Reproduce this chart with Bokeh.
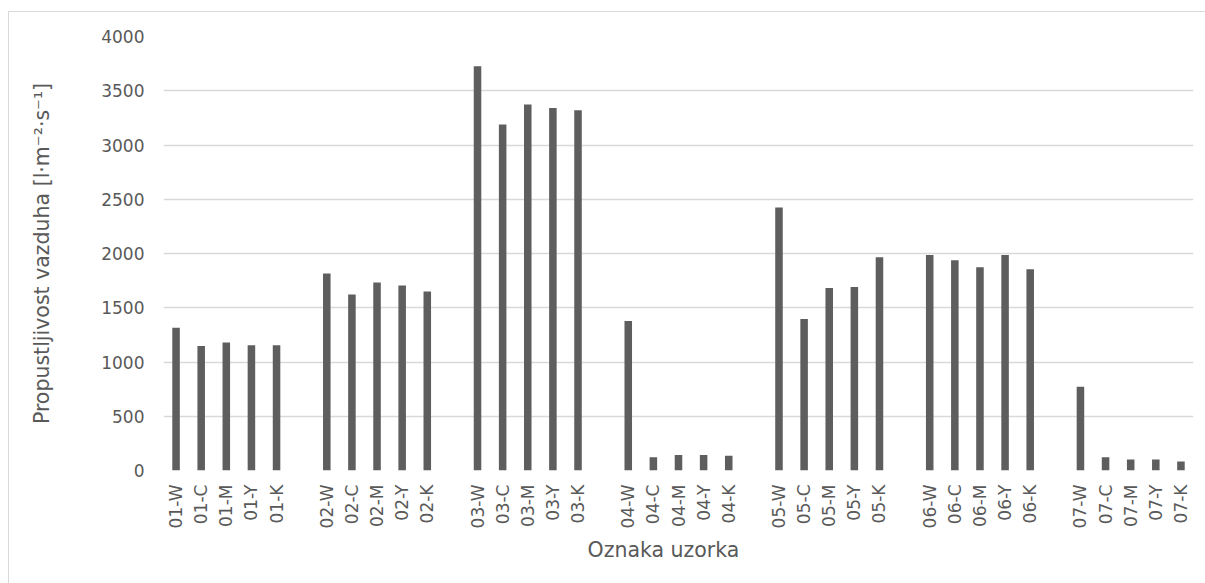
from bokeh.plotting import figure
from bokeh.models import FixedTicker, Range1d, ColumnDataSource, Title, InlineStyleSheet
from bokeh.embed import file_html
from bokeh.resources import INLINE
import math

groups = ["01", "02", "03", "04", "05", "06", "07"]
variants = ["W", "C", "M", "Y", "K"]
values_01 = [1315, 1148, 1180, 1155, 1155]
values_02 = [1815, 1622, 1733, 1705, 1650]
values_03 = [3726, 3189, 3373, 3342, 3321]
values_04 = [1379, 122, 144, 144, 135]
values_05 = [2424, 1397, 1683, 1692, 1966]
values_06 = [1987, 1938, 1874, 1987, 1855]
values_07 = [771, 122, 101, 101, 83]
y_ticks = [0, 500, 1000, 1500, 2000, 2500, 3000, 3500, 4000]

all_vals = [values_01, values_02, values_03, values_04, values_05, values_06, values_07]
xs, tops, labels = [], [], []
for gi, (g, vals) in enumerate(zip(groups, all_vals)):
    for vi, (v, val) in enumerate(zip(variants, vals)):
        xs.append(gi * (len(variants) + 1) + vi)
        tops.append(val)
        labels.append(f"{g}-{v}")

src = ColumnDataSource(dict(x=xs, top=tops, label=labels))
n_slots = len(groups) * (len(variants) + 1) - 1

FONT = "DejaVu Sans"
TXT = "#595959"

border_css = InlineStyleSheet(css="""
:host::after {
  content: "";
  position: absolute;
  left: 8px; top: 11px; right: -20px; bottom: -20px;
  border-top: 1px solid #d9d9d9;
  border-left: 1px solid #d9d9d9;
  pointer-events: none;
}
""")

p = figure(width=1205, height=583, output_backend="svg", toolbar_location=None,
           x_range=Range1d(-0.5, n_slots - 0.5), y_range=Range1d(0, 4000),
           min_border_left=163, min_border_top=36, min_border_right=12, min_border_bottom=113)
p.stylesheets = [border_css]
p.outline_line_color = None
p.background_fill_color = "white"
p.border_fill_color = "white"

p.vbar(x="x", top="top", bottom=0, width=0.3, source=src, fill_color="#5e5e5e", line_color=None)

p.xaxis.ticker = FixedTicker(ticks=xs)
p.xaxis.major_label_overrides = {x: l for x, l in zip(xs, labels)}
p.xaxis.major_label_orientation = math.pi / 2
p.xaxis.major_tick_line_color = None
p.xaxis.minor_tick_line_color = None
p.xaxis.axis_line_color = None
p.xaxis.major_label_standoff = 8
p.xaxis.major_label_text_font = FONT
p.xaxis.major_label_text_font_size = "17px"
p.xaxis.major_label_text_color = TXT

p.yaxis.ticker = FixedTicker(ticks=y_ticks)
p.yaxis.major_tick_line_color = None
p.yaxis.minor_tick_line_color = None
p.yaxis.axis_line_color = None
p.yaxis.major_label_standoff = 13
p.yaxis.major_label_text_font = FONT
p.yaxis.major_label_text_font_size = "17px"
p.yaxis.major_label_text_color = TXT
p.yaxis.axis_label = "Propustljivost vazduha [l·m⁻²·s⁻¹]"
p.yaxis.axis_label_text_font = FONT
p.yaxis.axis_label_text_font_size = "20.5px"
p.yaxis.axis_label_text_font_style = "normal"
p.yaxis.axis_label_text_color = TXT
p.yaxis.axis_label_standoff = 44

p.xgrid.grid_line_color = None
p.ygrid.grid_line_color = "#d9d9d9"
p.ygrid.grid_line_width = 1.3

# x-axis title, centred on the whole chart area (as in the original)
xtitle = Title(text="Oznaka uzorka", align="left", offset=424, standoff=9,
               text_font=FONT, text_font_size="20.5px", text_color=TXT,
               text_font_style="normal")
p.add_layout(xtitle, "below")

open("out.html", "w").write(file_html(p, INLINE))
